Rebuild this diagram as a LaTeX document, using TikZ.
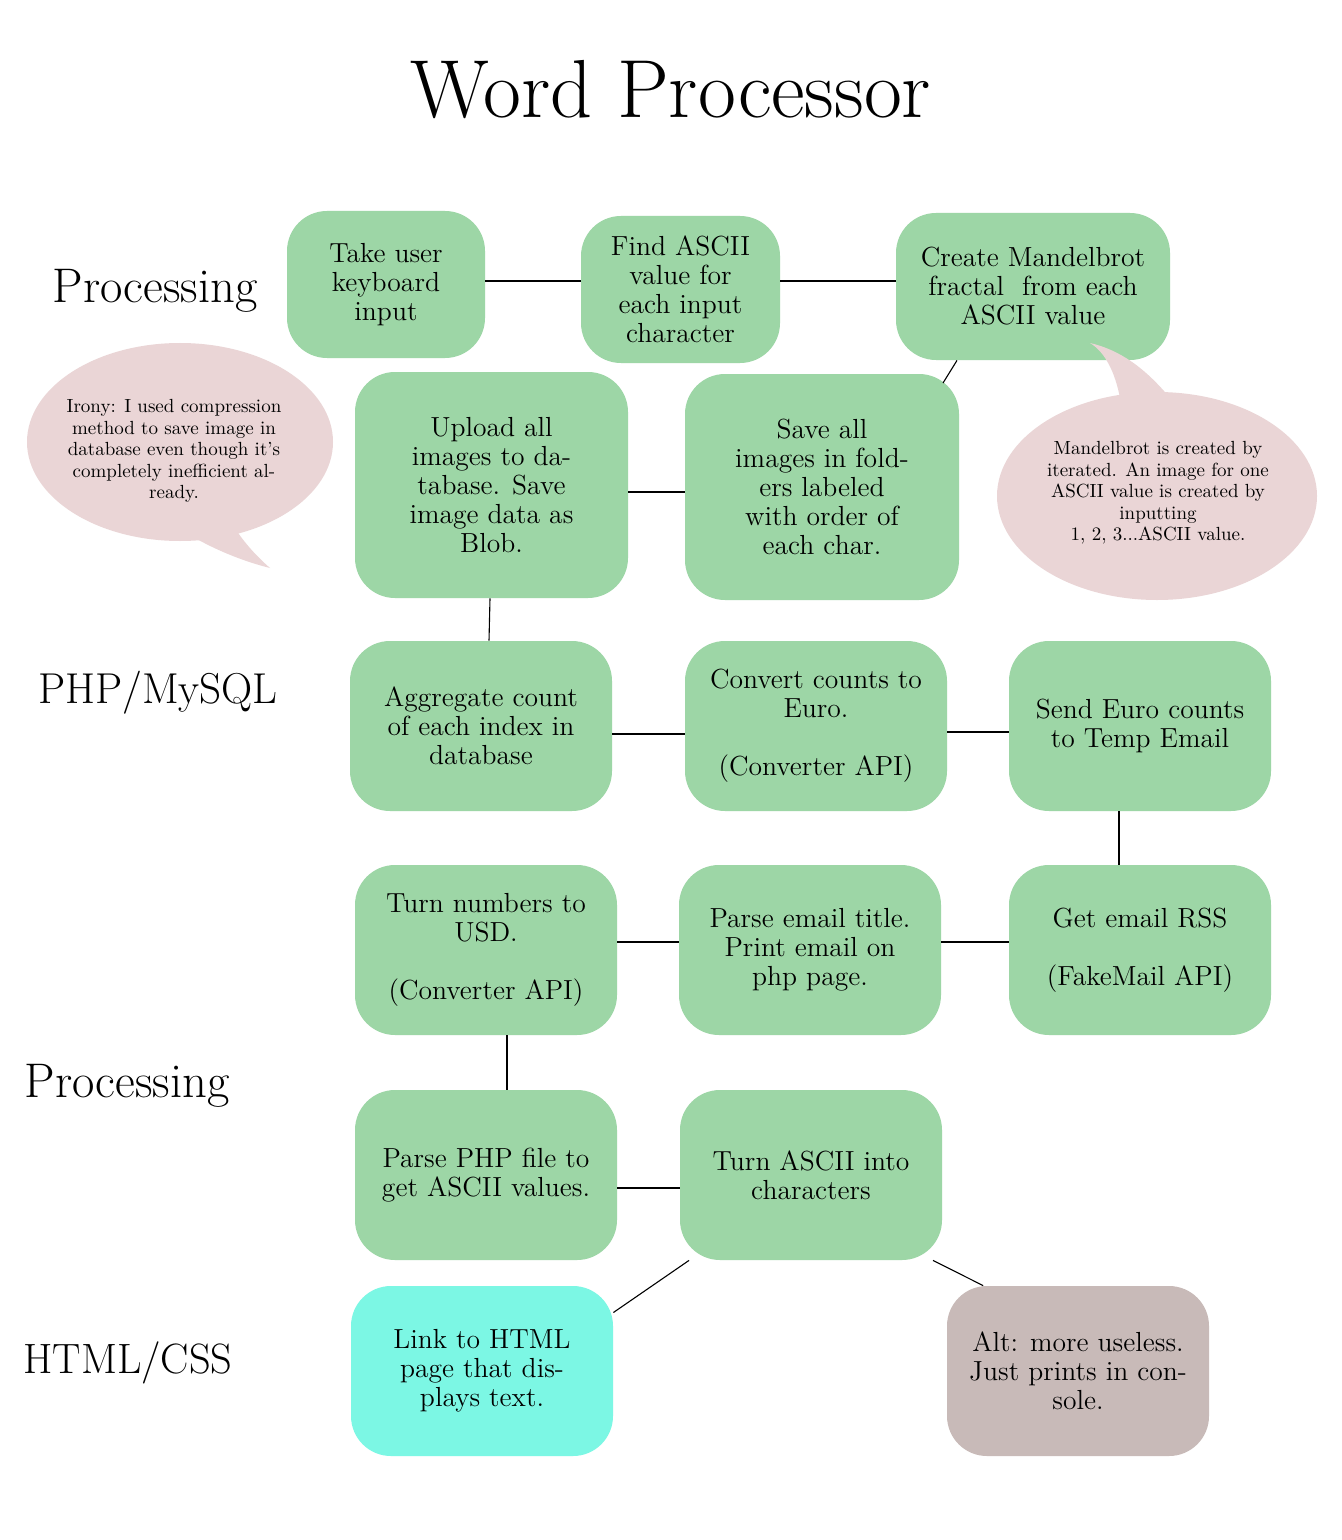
\documentclass[tikz,border=0pt]{standalone}
\usetikzlibrary{calc}
\definecolor{boxgreen}{RGB}{157,214,166}
\definecolor{bubblepink}{RGB}{234,213,214}
\definecolor{htmlcyan}{RGB}{124,247,228}
\definecolor{altgrey}{RGB}{200,186,184}
\tikzset{
  gbox/.style={fill=boxgreen, rounded corners=20pt, align=center, inner sep=0pt,
    minimum width=131pt, minimum height=85pt, font=\fontsize{13.8}{14.5}\selectfont},
  conn/.style={draw=black, line width=0.55pt},
  seclabel/.style={font=\fontsize{24.3}{27}\selectfont, inner sep=0pt},
  bubbletext/.style={align=center, inner sep=0pt, font=\fontsize{9.5}{10.75}\selectfont},
}
\begin{document}
\begin{tikzpicture}[x=0.5pt,y=-0.5pt]
\fill[white] (0,0) rectangle (1342,1540);
\useasboundingbox (0,0) rectangle (1342,1540);

% title and section labels
\node[font=\fontsize{41.2}{46}\selectfont, inner sep=0pt] (title) at (671,90) {Word Processor};
\node[seclabel] (s1) at (155,291) {Processing};
\node[seclabel, font=\fontsize{21.6}{25}\selectfont] (s2) at (158,693) {PHP/MySQL};
\node[seclabel] (s3) at (127,1086) {Processing};
\node[seclabel, font=\fontsize{21.2}{25}\selectfont] (s4) at (128,1363) {HTML/CSS};

% boxes
\node[gbox, minimum width=99pt, minimum height=73.5pt] (b1) at (386,284.5) {Take user\\keyboard\\input};
\node[gbox, minimum width=99.5pt, minimum height=73.5pt] (b2) at (680.5,289.5) {Find ASCII\\value for\\each input\\character};
\node[gbox, minimum width=137pt, minimum height=73.5pt] (b3) at (1033,286.5) {Create Mandelbrot\\fractal\ \ from each\\ASCII value};
\node[gbox, minimum width=136.5pt, minimum height=113pt] (b4) at (491.5,485) {Upload all\\images to da-\\tabase. Save\\image data as\\Blob.};
\node[gbox, minimum width=137pt, minimum height=113pt] (b5) at (822,487) {Save all\\images in fold-\\ers labeled\\with order of\\each char.};
\node[gbox] (b6) at (481,726) {Aggregate count\\of each index in\\database};
\node[gbox] (b7) at (816,726) {Convert counts to\\Euro.\\ \\(Converter API)};
\node[gbox] (b8) at (1140,726) {Send Euro counts\\to Temp Email};
\node[gbox] (b9) at (486,950) {Turn numbers to\\USD.\\ \\(Converter API)};
\node[gbox] (b10) at (810,950) {Parse email title.\\Print email on\\php page.};
\node[gbox] (b11) at (1140,950) {Get email RSS\\ \\(FakeMail API)};
\node[gbox] (b12) at (486,1175) {Parse PHP file to\\get ASCII values.};
\node[gbox] (b13) at (811,1175) {Turn ASCII into\\characters};
\node[gbox, fill=htmlcyan] (b14) at (482,1371) {Link to HTML\\page that dis-\\plays text.};
\node[gbox, fill=altgrey] (b15) at (1078,1371) {Alt: more useless.\\Just prints in con-\\sole.};

% connectors
\coordinate (c35) at (943,383);
\draw[conn] (b1.east |- 0,281) -- (b2.west |- 0,281);
\draw[conn] (b2.east |- 0,281) -- (b3.west |- 0,281);
\draw[conn] ([xshift=-38pt]b3.south) -- (c35);
\draw[conn] (b4.east |- 0,492) -- (b5.west |- 0,492);
\draw[conn] ([xshift=-0.75pt]b4.south) -- ([xshift=4pt]b6.north);
\draw[conn] (b6.east |- 0,734) -- (b7.west |- 0,734);
\draw[conn] (b7.east |- 0,732) -- (b8.west |- 0,732);
\draw[conn] (b8.south -| 1119,0) -- (b11.north -| 1119,0);
\draw[conn] (b9.east |- 0,942) -- (b10.west |- 0,942);
\draw[conn] (b10.east |- 0,942) -- (b11.west |- 0,942);
\draw[conn] (b9.south -| 507,0) -- (b12.north -| 507,0);
\draw[conn] (b12.east |- 0,1188) -- (b13.west |- 0,1188);
\draw[conn] (b13.215) -- (b14.24);
\draw[conn] (b13.-35) -- (b15.138);

% speech bubbles
\fill[bubblepink] (180,442) ellipse [x radius=153, y radius=99];
\fill[bubblepink] (188,534) .. controls (220,553) and (250,563) .. (270,568)
   .. controls (255,555) and (242,540) .. (233,525) -- cycle;
\node[bubbletext] (irony) at (174,451) {Irony: I used compression\\method to save image in\\database even though it's\\completely inefficient al-\\ready.};

\fill[bubblepink] (1157,496) ellipse [x radius=160, y radius=104];
\fill[bubblepink] (1120,398) .. controls (1115,372) and (1105,352) .. (1090,343)
   .. controls (1120,350) and (1145,368) .. (1170,398) -- cycle;
\node[bubbletext] (mandel) at (1158,493) {Mandelbrot is created by\\iterated. An image for one\\ASCII value is created by\\inputting\\1, 2, 3...ASCII value.};
\end{tikzpicture}
\end{document}
